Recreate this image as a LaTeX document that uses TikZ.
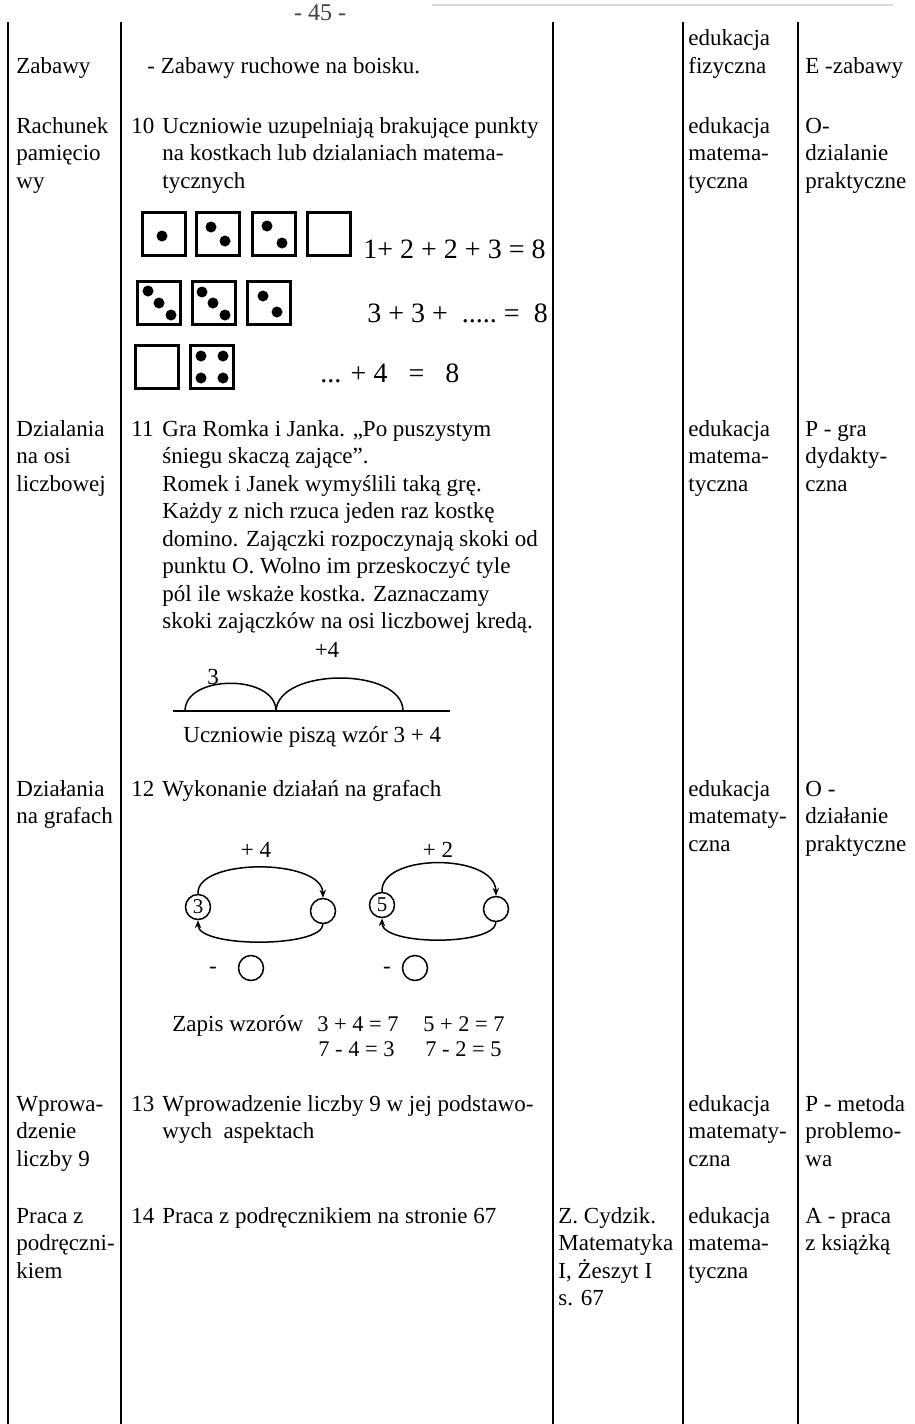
\documentclass[tikz,border=0pt]{standalone}
\usepackage{fontspec}
\setmainfont{Liberation Serif}
\usetikzlibrary{arrows.meta}
\newcommand\cell[1]{\begin{tabular}[t]{@{}l@{}}#1\end{tabular}}
\tikzset{
  txt/.style={anchor=base west, inner sep=0pt, font=\fontsize{11.5}{13.75}\selectfont},
  numtxt/.style={anchor=base west, inner sep=0pt, font=\fontsize{11.2}{12.5}\selectfont},
  eqtxt/.style={anchor=base west, inner sep=0pt, font=\fontsize{14}{16}\selectfont},
  colline/.style={line width=1.3pt},
  die/.style={draw, line width=1.1pt, minimum size=21.5pt, inner sep=0pt},
  pip/.style={fill=black},
  gnode/.style={draw, circle, line width=0.75pt, minimum size=12.5pt, inner sep=0pt, font=\fontsize{10.5}{12}\selectfont},
  garc/.style={line width=0.75pt, -{Stealth[length=4pt,width=3.2pt]}},
  jump/.style={line width=0.75pt},
}
\begin{document}
\begin{tikzpicture}[x=0.5pt,y=-0.5pt]
\useasboundingbox (0,0) rectangle (915,1424);
\clip (0,0) rectangle (915,1424);
% scan artefacts at the top
\draw[gray!30, line width=1.2pt] (432,5) -- (893,5);
\node[anchor=base, inner sep=0pt, font=\fontsize{12}{13}\selectfont, text=black!75] (pagenum) at (320,20) {- 45 -};
% column rules
\coordinate (c1t) at (8,22);   \coordinate (c1b) at (8,1424);
\coordinate (c2t) at (121,22); \coordinate (c2b) at (121,1424);
\coordinate (c3t) at (553,22); \coordinate (c3b) at (553,1424);
\coordinate (c4t) at (683,22); \coordinate (c4b) at (683,1424);
\coordinate (c5t) at (798,22); \coordinate (c5b) at (798,1424);
\draw[colline] (c1t) -- (c1b);
\draw[colline] (c2t) -- (c2b);
\draw[colline] (c3t) -- (c3b);
\draw[colline] (c4t) -- (c4b);
\draw[colline] (c5t) -- (c5b);

% ---- row: Zabawy
\node[txt] (r0a) at (16,73) {Zabawy};
\node[txt] (r0b) at (147,73) {- Zabawy ruchowe na boisku.};
\node[txt] (r0d) at (688,46) {\cell{edukacja\\fizyczna}};
\node[txt] (r0e) at (805,73) {E -zabawy};

% ---- row 10
\node[txt] (r10a) at (16,133) {\cell{Rachunek\\pamięcio\\wy}};
\node[txt] (r10n) at (131,133) {10};
\node[txt] (r10b) at (162,133) {\cell{Uczniowie uzupelniają brakujące punkty\\na kostkach lub dzialaniach matema-\\tycznych}};
\node[txt] (r10d) at (688,133) {\cell{edukacja\\matema-\\tyczna}};
\node[txt] (r10e) at (805,133) {\cell{O-\\dzialanie\\praktyczne}};
% dice
\node[die] (d11) at (164,234) {};
\node[die] (d12) at (218,234) {};
\node[die] (d13) at (274,234) {};
\node[die] (d14) at (329,234) {};
\node[die] (d21) at (159,303) {};
\node[die] (d22) at (214,303) {};
\node[die] (d23) at (269,303) {};
\node[die] (d31) at (157,367) {};
\node[die] (d32) at (212,367) {};
\fill[pip] (162,236) circle[radius=5.5];
\fill[pip] (211,227) circle[radius=5.5];
\fill[pip] (225,241) circle[radius=5.5];
\fill[pip] (267,226) circle[radius=5.5];
\fill[pip] (282,243) circle[radius=5.5];
\fill[pip] (148,291) circle[radius=5.5];
\fill[pip] (159,303) circle[radius=5.5];
\fill[pip] (171,315) circle[radius=5.5];
\fill[pip] (202,292) circle[radius=5.5];
\fill[pip] (213,303) circle[radius=5.5];
\fill[pip] (225,315) circle[radius=5.5];
\fill[pip] (263,296) circle[radius=5.5];
\fill[pip] (277,312) circle[radius=5.5];
\fill[pip] (201,356) circle[radius=5.5];
\fill[pip] (223,356) circle[radius=5.5];
\fill[pip] (201,378) circle[radius=5.5];
\fill[pip] (223,378) circle[radius=5.5];
\node[eqtxt] (eq1) at (363,258) {1+ 2 + 2 + 3 = 8};
\node[eqtxt] (eq2) at (367,322) {3 + 3 +\ \ .....\ =\ \ 8};
\node[eqtxt] (eq3) at (320,382) {... + 4\ \ \ =\ \ \ 8};

% ---- row 11
\node[txt] (r11a) at (16,436) {\cell{Dzialania\\na osi\\liczbowej}};
\node[txt] (r11n) at (131,436) {11};
\node[txt] (r11b) at (162,436) {\cell{Gra Romka i Janka. „Po puszystym\\śniegu skaczą zające''.\\Romek i Janek wymyślili taką grę.\\Każdy z nich rzuca jeden raz kostkę\\domino. Zajączki rozpoczynają skoki od\\punktu O. Wolno im przeskoczyć tyle\\pól ile wskaże kostka. Zaznaczamy\\skoki zajączków na osi liczbowej kredą.}};
\node[txt] (r11d) at (688,436) {\cell{edukacja\\matema-\\tyczna}};
\node[txt] (r11e) at (805,436) {\cell{P - gra\\dydakty-\\czna}};
\node[txt, anchor=base] (plus4) at (327,657) {+4};
\node[txt, anchor=base] (three) at (213,684) {3};
\coordinate (nlA) at (173,711);
\coordinate (nlB) at (450,711);
\coordinate (j0) at (185,711);
\coordinate (j1) at (276,711);
\coordinate (j2) at (403,711);
\draw[jump] (nlA) -- (nlB);
\draw[jump] (j0) .. controls (185,674) and (276,674) .. (j1);
\draw[jump] (j1) .. controls (278,667) and (403,667) .. (j2);
\node[txt] (wz) at (183,742) {Uczniowie piszą wzór 3 + 4};

% ---- row 12
\node[txt] (r12a) at (16,796) {\cell{Działania\\na grafach}};
\node[txt] (r12n) at (131,796) {12};
\node[txt] (r12b) at (162,796) {Wykonanie działań na grafach};
\node[txt] (r12d) at (688,796) {\cell{edukacja\\matematy-\\czna}};
\node[txt] (r12e) at (805,796) {\cell{O -\\działanie\\praktyczne}};
\node[txt, anchor=base] (p4) at (256,857) {+ 4};
\node[txt, anchor=base] (p2) at (438,857) {+ 2};
\node[gnode] (g1a) at (198,907) {3};
\node[gnode] (g1b) at (323,911) {};
\node[gnode] (g2a) at (382,905) {5};
\node[gnode] (g2b) at (496,909) {};
\draw[garc] (g1a.north) .. controls (196,858) and (322,858) .. (g1b.north);
\draw[garc] (g1b.south) .. controls (322,948) and (198,948) .. (g1a.south);
\draw[garc] (g2a.north) .. controls (380,853) and (495,853) .. (g2b.north);
\draw[garc] (g2b.south) .. controls (495,946) and (382,946) .. (g2a.south);
\node[txt, anchor=base] (m1) at (213,973) {-};
\node[gnode] (o1) at (251,968) {};
\node[txt, anchor=base] (m2) at (387,973) {-};
\node[gnode] (o2) at (415,968) {};
\node[txt] (zap) at (172,1031) {Zapis wzorów};
\node[numtxt] (f1) at (317,1031) {3 + 4 = 7};
\node[numtxt] (f2) at (423,1031) {5 + 2 = 7};
\node[numtxt] (f3) at (318,1056) {7 - 4 = 3};
\node[numtxt] (f4) at (425,1056) {7 - 2 = 5};

% ---- row 13
\node[txt] (r13a) at (16,1111) {\cell{Wprowa-\\dzenie\\liczby 9}};
\node[txt] (r13n) at (131,1111) {13};
\node[txt] (r13b) at (162,1111) {\cell{Wprowadzenie liczby 9 w jej podstawo-\\wych\ \ aspektach}};
\node[txt] (r13d) at (688,1111) {\cell{edukacja\\matematy-\\czna}};
\node[txt] (r13e) at (805,1111) {\cell{P - metoda\\problemo-\\wa}};

% ---- row 14
\node[txt] (r14a) at (16,1223) {\cell{Praca z\\podręczni-\\kiem}};
\node[txt] (r14n) at (131,1223) {14};
\node[txt] (r14b) at (162,1223) {Praca z podręcznikiem na stronie 67};
\node[txt] (r14c) at (558,1223) {\cell{Z. Cydzik.\\Matematyka\\I, Żeszyt I\\s. 67}};
\node[txt] (r14d) at (688,1223) {\cell{edukacja\\matema-\\tyczna}};
\node[txt] (r14e) at (805,1223) {\cell{A - praca\\z książką}};
\end{tikzpicture}
\end{document}
